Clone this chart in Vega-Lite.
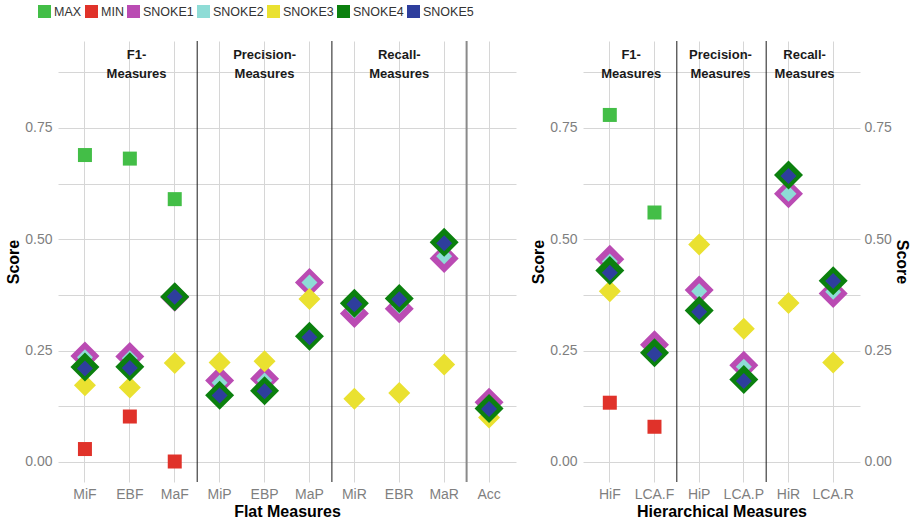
{
  "$schema": "https://vega.github.io/schema/vega-lite/v6.json",
  "padding": {"left": 5, "top": 5, "right": 3, "bottom": 3},
  "config": {
    "view": {"stroke": null},
    "font": "Liberation Sans",
    "axis": {"labelFont": "Liberation Sans", "titleFont": "Liberation Sans"},
    "legend": {
      "orient": "none", "legendX": -20, "legendY": -36, "direction": "horizontal",
      "symbolType": "square", "symbolSize": 169, "symbolStrokeWidth": 0,
      "labelFontSize": 12.5, "labelColor": "#333333", "labelFont": "Liberation Sans",
      "columnPadding": 3, "labelOffset": 3, "padding": 0, "title": null
    }
  },
  "datasets": {
    "flat": [
      {"measure": "MiF", "method": "MAX", "score": 0.689},
      {"measure": "MiF", "method": "MIN", "score": 0.029},
      {"measure": "MiF", "method": "SNOKE1", "score": 0.238},
      {"measure": "MiF", "method": "SNOKE2", "score": 0.235},
      {"measure": "MiF", "method": "SNOKE3", "score": 0.172},
      {"measure": "MiF", "method": "SNOKE4", "score": 0.213},
      {"measure": "MiF", "method": "SNOKE5", "score": 0.210},
      {"measure": "EBF", "method": "MAX", "score": 0.681},
      {"measure": "EBF", "method": "MIN", "score": 0.102},
      {"measure": "EBF", "method": "SNOKE1", "score": 0.237},
      {"measure": "EBF", "method": "SNOKE2", "score": 0.233},
      {"measure": "EBF", "method": "SNOKE3", "score": 0.167},
      {"measure": "EBF", "method": "SNOKE4", "score": 0.214},
      {"measure": "EBF", "method": "SNOKE5", "score": 0.211},
      {"measure": "MaF", "method": "MAX", "score": 0.590},
      {"measure": "MaF", "method": "MIN", "score": 0.001},
      {"measure": "MaF", "method": "SNOKE1", "score": 0.370},
      {"measure": "MaF", "method": "SNOKE2", "score": 0.370},
      {"measure": "MaF", "method": "SNOKE3", "score": 0.222},
      {"measure": "MaF", "method": "SNOKE4", "score": 0.371},
      {"measure": "MaF", "method": "SNOKE5", "score": 0.371},
      {"measure": "MiP", "method": "SNOKE1", "score": 0.183},
      {"measure": "MiP", "method": "SNOKE2", "score": 0.178},
      {"measure": "MiP", "method": "SNOKE3", "score": 0.223},
      {"measure": "MiP", "method": "SNOKE4", "score": 0.150},
      {"measure": "MiP", "method": "SNOKE5", "score": 0.149},
      {"measure": "EBP", "method": "SNOKE1", "score": 0.187},
      {"measure": "EBP", "method": "SNOKE2", "score": 0.183},
      {"measure": "EBP", "method": "SNOKE3", "score": 0.226},
      {"measure": "EBP", "method": "SNOKE4", "score": 0.160},
      {"measure": "EBP", "method": "SNOKE5", "score": 0.159},
      {"measure": "MaP", "method": "SNOKE1", "score": 0.403},
      {"measure": "MaP", "method": "SNOKE2", "score": 0.403},
      {"measure": "MaP", "method": "SNOKE3", "score": 0.366},
      {"measure": "MaP", "method": "SNOKE4", "score": 0.282},
      {"measure": "MaP", "method": "SNOKE5", "score": 0.280},
      {"measure": "MiR", "method": "SNOKE1", "score": 0.333},
      {"measure": "MiR", "method": "SNOKE2", "score": 0.340},
      {"measure": "MiR", "method": "SNOKE3", "score": 0.142},
      {"measure": "MiR", "method": "SNOKE4", "score": 0.356},
      {"measure": "MiR", "method": "SNOKE5", "score": 0.354},
      {"measure": "EBR", "method": "SNOKE1", "score": 0.344},
      {"measure": "EBR", "method": "SNOKE2", "score": 0.350},
      {"measure": "EBR", "method": "SNOKE3", "score": 0.155},
      {"measure": "EBR", "method": "SNOKE4", "score": 0.367},
      {"measure": "EBR", "method": "SNOKE5", "score": 0.365},
      {"measure": "MaR", "method": "SNOKE1", "score": 0.457},
      {"measure": "MaR", "method": "SNOKE2", "score": 0.462},
      {"measure": "MaR", "method": "SNOKE3", "score": 0.219},
      {"measure": "MaR", "method": "SNOKE4", "score": 0.493},
      {"measure": "MaR", "method": "SNOKE5", "score": 0.491},
      {"measure": "Acc", "method": "SNOKE1", "score": 0.134},
      {"measure": "Acc", "method": "SNOKE2", "score": 0.130},
      {"measure": "Acc", "method": "SNOKE3", "score": 0.100},
      {"measure": "Acc", "method": "SNOKE4", "score": 0.120},
      {"measure": "Acc", "method": "SNOKE5", "score": 0.119}
    ],
    "hier": [
      {"measure": "HiF", "method": "MAX", "score": 0.779},
      {"measure": "HiF", "method": "MIN", "score": 0.133},
      {"measure": "HiF", "method": "SNOKE1", "score": 0.455},
      {"measure": "HiF", "method": "SNOKE2", "score": 0.450},
      {"measure": "HiF", "method": "SNOKE3", "score": 0.383},
      {"measure": "HiF", "method": "SNOKE4", "score": 0.430},
      {"measure": "HiF", "method": "SNOKE5", "score": 0.425},
      {"measure": "LCA.F", "method": "MAX", "score": 0.560},
      {"measure": "LCA.F", "method": "MIN", "score": 0.079},
      {"measure": "LCA.F", "method": "SNOKE1", "score": 0.263},
      {"measure": "LCA.F", "method": "SNOKE2", "score": 0.258},
      {"measure": "LCA.F", "method": "SNOKE3", "score": 0.245},
      {"measure": "LCA.F", "method": "SNOKE4", "score": 0.245},
      {"measure": "LCA.F", "method": "SNOKE5", "score": 0.242},
      {"measure": "HiP", "method": "SNOKE1", "score": 0.386},
      {"measure": "HiP", "method": "SNOKE2", "score": 0.383},
      {"measure": "HiP", "method": "SNOKE3", "score": 0.488},
      {"measure": "HiP", "method": "SNOKE4", "score": 0.340},
      {"measure": "HiP", "method": "SNOKE5", "score": 0.337},
      {"measure": "LCA.P", "method": "SNOKE1", "score": 0.217},
      {"measure": "LCA.P", "method": "SNOKE2", "score": 0.214},
      {"measure": "LCA.P", "method": "SNOKE3", "score": 0.299},
      {"measure": "LCA.P", "method": "SNOKE4", "score": 0.185},
      {"measure": "LCA.P", "method": "SNOKE5", "score": 0.182},
      {"measure": "HiR", "method": "SNOKE1", "score": 0.602},
      {"measure": "HiR", "method": "SNOKE2", "score": 0.602},
      {"measure": "HiR", "method": "SNOKE3", "score": 0.357},
      {"measure": "HiR", "method": "SNOKE4", "score": 0.644},
      {"measure": "HiR", "method": "SNOKE5", "score": 0.642},
      {"measure": "LCA.R", "method": "SNOKE1", "score": 0.378},
      {"measure": "LCA.R", "method": "SNOKE2", "score": 0.382},
      {"measure": "LCA.R", "method": "SNOKE3", "score": 0.223},
      {"measure": "LCA.R", "method": "SNOKE4", "score": 0.407},
      {"measure": "LCA.R", "method": "SNOKE5", "score": 0.406}
    ]
  },
  "spacing": 14,
  "resolve": {"scale": {"x": "independent", "y": "independent", "color": "shared", "size": "shared"}},
  "hconcat": [
    {
      "width": 458, "height": 441,
      "layer": [
        {
          "data": {"values": [{"measure": "MaF"}, {"measure": "MaP"}]},
          "mark": {"type": "rule", "color": "#1a1a1a", "strokeWidth": 1},
          "encoding": {"x": {"field": "measure", "type": "nominal", "bandPosition": 1,
            "scale": {"type": "band", "domain": ["MiF","EBF","MaF","MiP","EBP","MaP","MiR","EBR","MaR","Acc"], "paddingInner": 0, "paddingOuter": 0.1},
            "axis": {"title": "Flat Measures", "grid": true, "gridColor": "#d6d6d6", "bandPosition": 0.5, "ticks": false, "domain": false, "labelAngle": 0, "labelFontSize": 14, "labelColor": "#7f7f7f", "labelPadding": 5, "titleFontSize": 16, "titleFontWeight": "bold", "titleColor": "#000000", "titlePadding": 2}}}
        },
        {
          "data": {"values": [{"measure": "MaR"}]},
          "mark": {"type": "rule", "color": "#8a8a8a", "strokeWidth": 2},
          "encoding": {"x": {"field": "measure", "type": "nominal", "bandPosition": 1,
            "scale": {"type": "band", "domain": ["MiF","EBF","MaF","MiP","EBP","MaP","MiR","EBR","MaR","Acc"], "paddingInner": 0, "paddingOuter": 0.1},
            "axis": {"title": "Flat Measures", "grid": true, "gridColor": "#d6d6d6", "bandPosition": 0.5, "ticks": false, "domain": false, "labelAngle": 0, "labelFontSize": 14, "labelColor": "#7f7f7f", "labelPadding": 5, "titleFontSize": 16, "titleFontWeight": "bold", "titleColor": "#000000", "titlePadding": 2}}}
        },
        {
          "data": {"values": [{"measure": "EBF", "label": "F1-\nMeasures"}]},
          "mark": {"type": "text", "fontWeight": "bold", "fontSize": 13, "color": "#1a1a1a", "lineBreak": "\n", "lineHeight": 19, "baseline": "alphabetic", "align": "center"},
          "encoding": {
            "x": {"field": "measure", "type": "nominal", "bandPosition": 0.65,
              "scale": {"type": "band", "domain": ["MiF","EBF","MaF","MiP","EBP","MaP","MiR","EBR","MaR","Acc"], "paddingInner": 0, "paddingOuter": 0.1},
              "axis": {"title": "Flat Measures", "grid": true, "gridColor": "#d6d6d6", "bandPosition": 0.5, "ticks": false, "domain": false, "labelAngle": 0, "labelFontSize": 14, "labelColor": "#7f7f7f", "labelPadding": 5, "titleFontSize": 16, "titleFontWeight": "bold", "titleColor": "#000000", "titlePadding": 2}},
            "y": {"datum": 0.904, "type": "quantitative", "scale": {"domain": [-0.045, 0.945], "nice": false, "zero": false},
              "axis": {"title": "Score", "values": [0, 0.125, 0.25, 0.375, 0.5, 0.625, 0.75, 0.875], "labelExpr": "(datum.value * 4) % 1 == 0 ? format(datum.value, '.2f') : ''", "grid": true, "gridColor": "#d6d6d6", "ticks": false, "domain": false, "labelFontSize": 14, "labelColor": "#7f7f7f", "labelPadding": 6, "titleFontSize": 16, "titleFontWeight": "bold", "titleColor": "#000000", "titlePadding": 3}},
            "text": {"field": "label", "type": "nominal"}
          }
        },
        {
          "data": {"values": [{"measure": "EBP", "label": "Precision-\nMeasures"}, {"measure": "EBR", "label": "Recall-\nMeasures"}]},
          "mark": {"type": "text", "fontWeight": "bold", "fontSize": 13, "color": "#1a1a1a", "lineBreak": "\n", "lineHeight": 19, "baseline": "alphabetic", "align": "center"},
          "encoding": {
            "x": {"field": "measure", "type": "nominal", "bandPosition": 0.5,
              "scale": {"type": "band", "domain": ["MiF","EBF","MaF","MiP","EBP","MaP","MiR","EBR","MaR","Acc"], "paddingInner": 0, "paddingOuter": 0.1},
              "axis": {"title": "Flat Measures", "grid": true, "gridColor": "#d6d6d6", "bandPosition": 0.5, "ticks": false, "domain": false, "labelAngle": 0, "labelFontSize": 14, "labelColor": "#7f7f7f", "labelPadding": 5, "titleFontSize": 16, "titleFontWeight": "bold", "titleColor": "#000000", "titlePadding": 2}},
            "y": {"datum": 0.904, "type": "quantitative", "scale": {"domain": [-0.045, 0.945], "nice": false, "zero": false},
              "axis": {"title": "Score", "values": [0, 0.125, 0.25, 0.375, 0.5, 0.625, 0.75, 0.875], "labelExpr": "(datum.value * 4) % 1 == 0 ? format(datum.value, '.2f') : ''", "grid": true, "gridColor": "#d6d6d6", "ticks": false, "domain": false, "labelFontSize": 14, "labelColor": "#7f7f7f", "labelPadding": 6, "titleFontSize": 16, "titleFontWeight": "bold", "titleColor": "#000000", "titlePadding": 3}},
            "text": {"field": "label", "type": "nominal"}
          }
        },
        {
          "data": {"name": "flat"},
          "transform": [{"filter": "datum.method == 'MAX' || datum.method == 'MIN'"}],
          "mark": {"type": "point", "shape": "square", "filled": true, "opacity": 1, "size": 196, "strokeWidth": 0},
          "encoding": {
            "x": {"field": "measure", "type": "nominal",
              "scale": {"type": "band", "domain": ["MiF","EBF","MaF","MiP","EBP","MaP","MiR","EBR","MaR","Acc"], "paddingInner": 0, "paddingOuter": 0.1},
              "axis": {"title": "Flat Measures", "grid": true, "gridColor": "#d6d6d6", "bandPosition": 0.5, "ticks": false, "domain": false, "labelAngle": 0, "labelFontSize": 14, "labelColor": "#7f7f7f", "labelPadding": 5, "titleFontSize": 16, "titleFontWeight": "bold", "titleColor": "#000000", "titlePadding": 2}},
            "y": {"field": "score", "type": "quantitative", "scale": {"domain": [-0.045, 0.945], "nice": false, "zero": false},
              "axis": {"title": "Score", "values": [0, 0.125, 0.25, 0.375, 0.5, 0.625, 0.75, 0.875], "labelExpr": "(datum.value * 4) % 1 == 0 ? format(datum.value, '.2f') : ''", "grid": true, "gridColor": "#d6d6d6", "ticks": false, "domain": false, "labelFontSize": 14, "labelColor": "#7f7f7f", "labelPadding": 6, "titleFontSize": 16, "titleFontWeight": "bold", "titleColor": "#000000", "titlePadding": 3}},
            "color": {"field": "method", "type": "nominal",
              "scale": {"domain": ["MAX","MIN","SNOKE1","SNOKE2","SNOKE3","SNOKE4","SNOKE5"], "range": ["#43be47","#e0322a","#ba4bb3","#8edcd6","#eae130","#0b800e","#2e3e9d"]},
              "legend": {"title": null}}
          }
        },
        {
          "data": {"name": "flat"},
          "transform": [{"filter": "datum.method != 'MAX' && datum.method != 'MIN'"}],
          "mark": {"type": "point", "shape": "diamond", "filled": true, "opacity": 1, "strokeWidth": 0},
          "encoding": {
            "x": {"field": "measure", "type": "nominal",
              "scale": {"type": "band", "domain": ["MiF","EBF","MaF","MiP","EBP","MaP","MiR","EBR","MaR","Acc"], "paddingInner": 0, "paddingOuter": 0.1},
              "axis": {"title": "Flat Measures", "grid": true, "gridColor": "#d6d6d6", "bandPosition": 0.5, "ticks": false, "domain": false, "labelAngle": 0, "labelFontSize": 14, "labelColor": "#7f7f7f", "labelPadding": 5, "titleFontSize": 16, "titleFontWeight": "bold", "titleColor": "#000000", "titlePadding": 2}},
            "y": {"field": "score", "type": "quantitative", "scale": {"domain": [-0.045, 0.945], "nice": false, "zero": false},
              "axis": {"title": "Score", "values": [0, 0.125, 0.25, 0.375, 0.5, 0.625, 0.75, 0.875], "labelExpr": "(datum.value * 4) % 1 == 0 ? format(datum.value, '.2f') : ''", "grid": true, "gridColor": "#d6d6d6", "ticks": false, "domain": false, "labelFontSize": 14, "labelColor": "#7f7f7f", "labelPadding": 6, "titleFontSize": 16, "titleFontWeight": "bold", "titleColor": "#000000", "titlePadding": 3}},
            "color": {"field": "method", "type": "nominal",
              "scale": {"domain": ["MAX","MIN","SNOKE1","SNOKE2","SNOKE3","SNOKE4","SNOKE5"], "range": ["#43be47","#e0322a","#ba4bb3","#8edcd6","#eae130","#0b800e","#2e3e9d"]},
              "legend": {"title": null}},
            "size": {"field": "method", "type": "nominal",
              "scale": {"type": "ordinal", "domain": ["SNOKE1","SNOKE2","SNOKE3","SNOKE4","SNOKE5"], "range": [841, 256, 484, 841, 256]},
              "legend": null}
          }
        }
      ]
    },
    {
      "width": 277, "height": 441,
      "resolve": {"axis": {"y": "independent"}},
      "layer": [
        {
          "data": {"values": [{"measure": "LCA.F"}, {"measure": "LCA.P"}]},
          "mark": {"type": "rule", "color": "#1a1a1a", "strokeWidth": 1},
          "encoding": {"x": {"field": "measure", "type": "nominal", "bandPosition": 1,
            "scale": {"type": "band", "domain": ["HiF","LCA.F","HiP","LCA.P","HiR","LCA.R"], "paddingInner": 0, "paddingOuter": 0.1},
            "axis": {"title": "Hierarchical Measures", "grid": true, "gridColor": "#d6d6d6", "bandPosition": 0.5, "ticks": false, "domain": false, "labelAngle": 0, "labelFontSize": 14, "labelColor": "#7f7f7f", "labelPadding": 5, "titleFontSize": 16, "titleFontWeight": "bold", "titleColor": "#000000", "titlePadding": 2}}}
        },
        {
          "data": {"values": [{"measure": "HiF", "label": "F1-\nMeasures"}, {"measure": "HiP", "label": "Precision-\nMeasures"}]},
          "mark": {"type": "text", "fontWeight": "bold", "fontSize": 13, "color": "#1a1a1a", "lineBreak": "\n", "lineHeight": 19, "baseline": "alphabetic", "align": "center", "dx": -1},
          "encoding": {
            "x": {"field": "measure", "type": "nominal", "bandPosition": 1,
              "scale": {"type": "band", "domain": ["HiF","LCA.F","HiP","LCA.P","HiR","LCA.R"], "paddingInner": 0, "paddingOuter": 0.1},
              "axis": {"title": "Hierarchical Measures", "grid": true, "gridColor": "#d6d6d6", "bandPosition": 0.5, "ticks": false, "domain": false, "labelAngle": 0, "labelFontSize": 14, "labelColor": "#7f7f7f", "labelPadding": 5, "titleFontSize": 16, "titleFontWeight": "bold", "titleColor": "#000000", "titlePadding": 2}},
            "y": {"datum": 0.904, "type": "quantitative", "scale": {"domain": [-0.045, 0.945], "nice": false, "zero": false}, "axis": null},
            "text": {"field": "label", "type": "nominal"}
          }
        },
        {
          "data": {"values": [{"measure": "HiR", "label": "Recall-\nMeasures"}]},
          "mark": {"type": "text", "fontWeight": "bold", "fontSize": 13, "color": "#1a1a1a", "lineBreak": "\n", "lineHeight": 19, "baseline": "alphabetic", "align": "center"},
          "encoding": {
            "x": {"field": "measure", "type": "nominal", "bandPosition": 0.86,
              "scale": {"type": "band", "domain": ["HiF","LCA.F","HiP","LCA.P","HiR","LCA.R"], "paddingInner": 0, "paddingOuter": 0.1},
              "axis": {"title": "Hierarchical Measures", "grid": true, "gridColor": "#d6d6d6", "bandPosition": 0.5, "ticks": false, "domain": false, "labelAngle": 0, "labelFontSize": 14, "labelColor": "#7f7f7f", "labelPadding": 5, "titleFontSize": 16, "titleFontWeight": "bold", "titleColor": "#000000", "titlePadding": 2}},
            "y": {"datum": 0.904, "type": "quantitative", "scale": {"domain": [-0.045, 0.945], "nice": false, "zero": false}, "axis": null},
            "text": {"field": "label", "type": "nominal"}
          }
        },
        {
          "data": {"name": "hier"},
          "transform": [{"filter": "datum.method == 'MAX' || datum.method == 'MIN'"}],
          "mark": {"type": "point", "shape": "square", "filled": true, "opacity": 1, "size": 196, "strokeWidth": 0},
          "encoding": {
            "x": {"field": "measure", "type": "nominal",
              "scale": {"type": "band", "domain": ["HiF","LCA.F","HiP","LCA.P","HiR","LCA.R"], "paddingInner": 0, "paddingOuter": 0.1},
              "axis": {"title": "Hierarchical Measures", "grid": true, "gridColor": "#d6d6d6", "bandPosition": 0.5, "ticks": false, "domain": false, "labelAngle": 0, "labelFontSize": 14, "labelColor": "#7f7f7f", "labelPadding": 5, "titleFontSize": 16, "titleFontWeight": "bold", "titleColor": "#000000", "titlePadding": 2}},
            "y": {"field": "score", "type": "quantitative", "scale": {"domain": [-0.045, 0.945], "nice": false, "zero": false},
              "axis": {"orient": "left", "title": "Score", "values": [0, 0.125, 0.25, 0.375, 0.5, 0.625, 0.75, 0.875], "labelExpr": "(datum.value * 4) % 1 == 0 ? format(datum.value, '.2f') : ''", "grid": true, "gridColor": "#d6d6d6", "ticks": false, "domain": false, "labelFontSize": 14, "labelColor": "#7f7f7f", "labelPadding": 6, "titleFontSize": 16, "titleFontWeight": "bold", "titleColor": "#000000", "titlePadding": 3}},
            "color": {"field": "method", "type": "nominal",
              "scale": {"domain": ["MAX","MIN","SNOKE1","SNOKE2","SNOKE3","SNOKE4","SNOKE5"], "range": ["#43be47","#e0322a","#ba4bb3","#8edcd6","#eae130","#0b800e","#2e3e9d"]},
              "legend": {"title": null}}
          }
        },
        {
          "data": {"name": "hier"},
          "transform": [{"filter": "datum.method != 'MAX' && datum.method != 'MIN'"}],
          "mark": {"type": "point", "shape": "diamond", "filled": true, "opacity": 1, "strokeWidth": 0},
          "encoding": {
            "x": {"field": "measure", "type": "nominal",
              "scale": {"type": "band", "domain": ["HiF","LCA.F","HiP","LCA.P","HiR","LCA.R"], "paddingInner": 0, "paddingOuter": 0.1},
              "axis": {"title": "Hierarchical Measures", "grid": true, "gridColor": "#d6d6d6", "bandPosition": 0.5, "ticks": false, "domain": false, "labelAngle": 0, "labelFontSize": 14, "labelColor": "#7f7f7f", "labelPadding": 5, "titleFontSize": 16, "titleFontWeight": "bold", "titleColor": "#000000", "titlePadding": 2}},
            "y": {"field": "score", "type": "quantitative", "scale": {"domain": [-0.045, 0.945], "nice": false, "zero": false},
              "axis": {"orient": "right", "title": "Score", "values": [0, 0.25, 0.5, 0.75], "format": ".2f", "grid": false, "ticks": false, "domain": false, "labelFontSize": 14, "labelColor": "#7f7f7f", "labelPadding": 4, "titleFontSize": 16, "titleFontWeight": "bold", "titleColor": "#000000", "titlePadding": 2}},
            "color": {"field": "method", "type": "nominal",
              "scale": {"domain": ["MAX","MIN","SNOKE1","SNOKE2","SNOKE3","SNOKE4","SNOKE5"], "range": ["#43be47","#e0322a","#ba4bb3","#8edcd6","#eae130","#0b800e","#2e3e9d"]},
              "legend": {"title": null}},
            "size": {"field": "method", "type": "nominal",
              "scale": {"type": "ordinal", "domain": ["SNOKE1","SNOKE2","SNOKE3","SNOKE4","SNOKE5"], "range": [841, 256, 484, 841, 256]},
              "legend": null}
          }
        }
      ]
    }
  ]
}
